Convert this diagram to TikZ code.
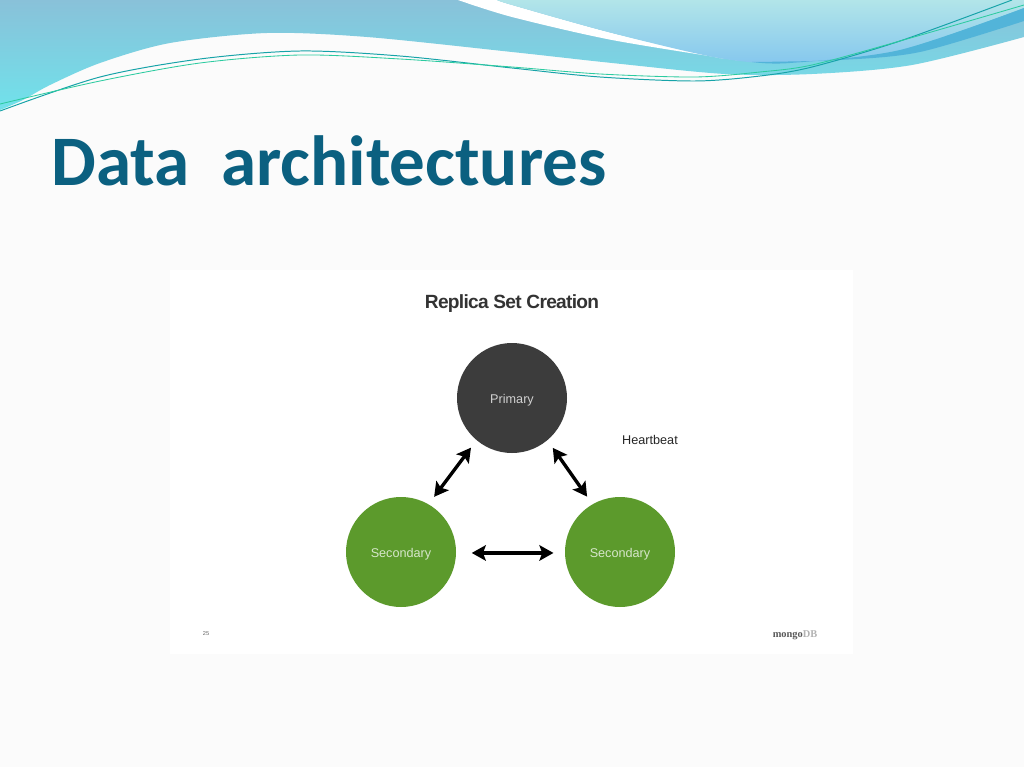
\documentclass[tikz,border=0pt]{standalone}
\usepackage{fontspec}
\setmainfont{Liberation Sans}
\newfontfamily\titlefont{Carlito}
\newfontfamily\logofont{Liberation Serif}
\usepackage{xcolor}
\usetikzlibrary{arrows.meta,calc}
\definecolor{pagegray}{HTML}{FBFBFB}
\definecolor{titleteal}{HTML}{0B6080}
\definecolor{bandtop}{HTML}{89C1D9}
\definecolor{bandlow}{HTML}{70E2EB}
\definecolor{lighttop}{HTML}{B2E5E9}
\definecolor{lightlow}{HTML}{85C7EE}
\definecolor{wedgeblue}{HTML}{52B4D9}
\definecolor{linedark}{HTML}{16A3A8}
\definecolor{linegreen}{HTML}{2CCBA0}
\definecolor{primarygray}{HTML}{3C3C3C}
\definecolor{secondarygreen}{HTML}{5C9A2C}
\tikzset{
  rolenode/.style={circle,minimum size=110*0.025cm,inner sep=0pt,text height=10pt,text depth=1.6pt,font=\fontsize{9}{11}\selectfont},
  heartarrow/.style={{Stealth[length=10pt,width=11pt,inset=2pt]}-{Stealth[length=10pt,width=11pt,inset=2pt]},line width=2.4pt,black},
}
\begin{document}
\begin{tikzpicture}[x=0.025cm,y=-0.025cm]
\useasboundingbox (0,0) rectangle (1024,767);
\fill[pagegray] (0,0) rectangle (1024,767);
\fill[white] (170,270) rectangle (853,654);
\shade[top color=bandtop,bottom color=bandlow]
  (0,0) -- (1024,0) -- (1024,37)
  -- plot[smooth] coordinates {(1024,37) (912,65) (812,74) (725,74) (612,63) (512,52) (367,37) (267,33) (170,43) (100,63) (50,85) (23,100) (0,110)}
  -- cycle;
\fill[white]
  (458,0) -- plot[smooth] coordinates {(458,0) (512,17) (612,40) (735,60)}
  -- (760,62) -- (719,58) -- plot[smooth] coordinates {(719,58) (612,33) (512,5) (497,0)} -- cycle;
\shade[top color=lighttop,bottom color=lightlow]
  (497,0) -- plot[smooth] coordinates {(497,0) (512,5) (612,33) (719,58) (790,63) (900,50) (1024,8)}
  -- (1024,0) -- cycle;
\fill[wedgeblue]
  (752,62) -- plot[smooth] coordinates {(752,62) (790,63) (900,50) (1024,8)}
  -- (1024,21) -- plot[smooth] coordinates {(1024,21) (920,52) (840,60) (752,62)} -- cycle;
\draw[linedark,line width=0.7pt] plot[smooth] coordinates {(0,111) (100,77) (200,59) (300,51) (400,56) (512,68) (600,77) (695,81) (760,76) (812,67) (900,41) (1012,0)};
\draw[linegreen,line width=0.6pt] plot[smooth] coordinates {(0,104) (100,81) (200,63) (300,55) (400,59) (512,67) (600,74) (695,77) (760,72) (812,65) (900,41) (1024,5)};
\node[anchor=west,inner sep=0pt,text=titleteal,font=\titlefont\bfseries\fontsize{50.5}{60}\selectfont] (title) at (51,161) {Data\ \ architectures};
\node[inner sep=0pt,text=primarygray!85!black,font=\bfseries\fontsize{13.6}{16}\selectfont\addfontfeature{LetterSpace=-3.6}] (heading) at (512,304) {Replica Set Creation};
\node[rolenode,fill=primarygray,text=white!82!black] (primary) at (512,398) {Primary};
\node[rolenode,fill=secondarygreen,text=white!75!secondarygreen] (secleft) at (401,552) {Secondary};
\node[rolenode,fill=secondarygreen,text=white!75!secondarygreen] (secright) at (620,552) {Secondary};
\node[inner sep=0pt,text=black!85,font=\fontsize{9}{11}\selectfont] (heartbeat) at (650,440) {Heartbeat};
\node[inner sep=0pt,text=black!60,font=\fontsize{4}{5}\selectfont] (pagenum) at (206,634) {25};
\node[inner sep=0pt,text=black!65,font=\logofont\bfseries\fontsize{7.4}{9}\selectfont] (logo) at (795,635.5) {mongo\textcolor{black!30}{DB}};
\draw[heartarrow,shorten <=6.5pt,shorten >=6.5pt] (secleft.60) -- (primary.230);
\draw[heartarrow,shorten <=6.5pt,shorten >=6.5pt] (primary.-50) -- (secright.120);
\draw[heartarrow,shorten <=11pt,shorten >=8pt] (secleft.-1) -- (secright.181);
\end{tikzpicture}
\end{document}
